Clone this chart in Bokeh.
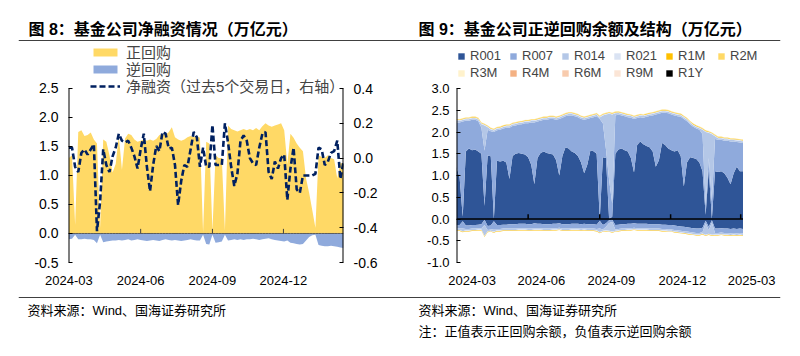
import pandas as pd
from bokeh.plotting import figure
from bokeh.models import (Range1d, LinearAxis, FixedTicker, DatetimeTickFormatter,
                          NumeralTickFormatter, Legend, LegendItem, Label, Span,
                          ColumnDataSource)
from bokeh.layouts import column, row
from bokeh.embed import file_html
from bokeh.resources import INLINE

# Latin glyphs (digits, "Wind") in an Arial-like face, Chinese falls back to Noto Sans CJK
FONT_CN = "Liberation Sans, Noto Sans CJK SC"
FONT_NUM = "Liberation Sans"

# ---------------- 图8 data (sampled every 4 days from 2024-03-01) ----------------
repo_pos = [1.30, 1.35, 0.15, 1.75, 1.78, 1.68, 1.70, 1.74, 1.62, 1.55,
            0.10, 1.62, 1.58, 1.35, 1.05, 1.20, 1.68, 1.10, 1.64, 1.72,
            1.70, 1.62, 1.58, 1.60, 1.62, 1.60, 1.62, 1.60, 1.63, 1.70,
            1.72, 1.70, 1.75, 1.83, 1.66, 1.62, 1.60, 1.62, 1.66, 1.68,
            1.66, 1.68, 1.65, 0.02, 1.58, 1.55, 0.05, 1.35, 1.30, 1.30,
            0.05, 1.86, 1.80, 1.78, 1.76, 1.78, 1.80, 1.78, 1.80, 1.78,
            1.82, 1.78, 1.85, 1.90, 1.86, 1.84, 1.86, 1.88, 1.90, 1.78,
            1.20, 1.72, 1.65, 1.55, 1.48, 1.42, 0.95, 0.70, 0.40, 0.10,
            1.35, 1.32, 1.30, 1.35, 1.30, 1.28, 0.95, 1.22, 1.20]
rev_repo = [-0.10, -0.09, -0.02, -0.10, -0.10, -0.09, -0.10, -0.10, -0.11, -0.17,
            -0.02, -0.15, -0.14, -0.13, -0.12, -0.12, -0.11, -0.12, -0.11, -0.10,
            -0.12, -0.11, -0.10, -0.11, -0.12, -0.13, -0.12, -0.11, -0.12, -0.13,
            -0.11, -0.10, -0.11, -0.12, -0.11, -0.12, -0.13, -0.12, -0.11, -0.10,
            -0.11, -0.12, -0.12, -0.02, -0.18, -0.19, -0.02, -0.16, -0.15, -0.14,
            -0.02, -0.12, -0.11, -0.10, -0.11, -0.10, -0.11, -0.10, -0.10, -0.09,
            -0.10, -0.11, -0.10, -0.09, -0.08, -0.10, -0.11, -0.12, -0.13, -0.14,
            -0.12, -0.16, -0.17, -0.18, -0.19, -0.18, -0.12, -0.06, -0.03, -0.02,
            -0.20, -0.21, -0.22, -0.22, -0.21, -0.22, -0.23, -0.24, -0.25]
net_fin = [0.06, 0.06, -0.05, -0.08, 0.03, 0.05, 0.02, 0.05, 0.08, -0.42,
           -0.25, 0.05, -0.04, -0.08, 0.01, 0.06, 0.14, 0.10, 0.09, 0.10,
           0.06, 0.01, -0.06, 0.05, 0.14, -0.05, -0.19, -0.04, 0.07, 0.04,
           0.15, 0.14, 0.055, 0.06, -0.04, -0.27, -0.13, -0.04, -0.05, 0.05,
           0.15, 0.12, -0.05, 0.06, -0.05, -0.05, 0.19, -0.04, -0.04, -0.04,
           0.20, 0.09, -0.05, -0.16, -0.09, 0.10, 0.13, 0.10, 0.00, -0.03,
           -0.04, 0.06, 0.14, 0.15, -0.08, -0.12, -0.02, -0.06, 0.00, 0.02,
           -0.24, -0.06, 0.06, -0.18, -0.20, -0.10, -0.10, -0.10, -0.10, -0.09,
           0.06, 0.05, -0.04, -0.02, 0.03, 0.04, 0.10, -0.12, -0.02]

# ---------------- 图9 data (sampled every 4 days from 2024-03-01) ----------------
r001_pos = [1.20, 0.95, 0.05, 1.55, 1.62, 1.58, 1.60, 1.55, 1.50, 0.30,
            1.46, 1.44, 0.00, 1.34, 1.32, 1.34, 1.30, 0.92, 1.45, 1.50,
            1.52, 1.50, 1.48, 1.42, 1.25, 0.80, 1.40, 1.52, 1.55, 1.52,
            1.50, 1.48, 1.35, 1.00, 1.45, 1.65, 1.62, 1.55, 1.52, 1.45,
            1.30, 1.05, 1.25, 1.58, 1.56, 1.50, 0.00, 1.42, 1.40, 0.00,
            0.05, 1.50, 1.60, 1.62, 1.58, 1.55, 1.40, 1.07, 1.70, 1.78,
            1.72, 1.68, 1.65, 1.55, 1.20, 1.35, 1.75, 1.70, 1.62, 1.58,
            1.55, 1.58, 1.45, 0.75, 1.30, 1.42, 1.40, 1.38, 1.30, 1.10,
            0.10, 1.15, 0.00, 1.10, 1.08, 1.10, 1.05, 0.95, 0.80, 1.05,
            1.20, 1.10, 1.10]
r007_pos = [1.02, 1.27, 2.19, 0.71, 0.64, 0.70, 0.68, 0.70, 0.60, 1.27,
            0.59, 0.58, 2.00, 0.70, 0.73, 0.74, 0.80, 1.18, 0.69, 0.65,
            0.65, 0.68, 0.72, 0.78, 0.97, 1.42, 0.84, 0.74, 0.73, 0.76,
            0.80, 0.82, 0.93, 1.30, 0.88, 0.71, 0.76, 0.83, 0.84, 0.89,
            1.00, 1.23, 1.05, 0.74, 0.78, 0.86, 2.30, 0.78, 0.20, 0.90,
            0.30, 0.88, 0.80, 0.76, 0.78, 0.79, 0.93, 1.23, 0.62, 0.56,
            0.61, 0.67, 0.72, 0.83, 1.20, 1.07, 0.69, 0.74, 0.81, 0.82,
            0.83, 0.78, 0.90, 1.55, 0.95, 0.76, 0.72, 0.70, 0.75, 0.85,
            0.20, 0.25, 0.40, 0.74, 0.74, 0.72, 0.75, 0.85, 0.98, 0.73,
            0.57, 0.66, 0.65]
r014_pos = [0.035, 0.035, 0.035, 0.035, 0.035, 0.035, 0.035, 0.035, 0.08, 0.58,
            0.06, 0.035, 0.035, 0.035, 0.035, 0.035, 0.035, 0.035, 0.035, 0.035,
            0.035, 0.035, 0.035, 0.035, 0.035, 0.035, 0.035, 0.035, 0.035, 0.035,
            0.035, 0.035, 0.035, 0.035, 0.035, 0.035, 0.035, 0.035, 0.035, 0.035,
            0.035, 0.035, 0.035, 0.035, 0.035, 0.035, 0.035, 0.18, 0.80, 1.52,
            2.05, 0.05, 0.035, 0.035, 0.035, 0.035, 0.035, 0.035, 0.035, 0.035,
            0.035, 0.035, 0.035, 0.035, 0.035, 0.035, 0.035, 0.035, 0.035, 0.035,
            0.035, 0.035, 0.035, 0.035, 0.035, 0.035, 0.035, 0.035, 0.035, 0.10,
            1.70, 0.58, 1.55, 0.06, 0.035, 0.035, 0.035, 0.035, 0.035, 0.035,
            0.035, 0.035, 0.035]
r021_pos = [0.02, 0.02, 0.02, 0.02, 0.02, 0.02, 0.02, 0.02, 0.02, 0.02,
            0.02, 0.02, 0.02, 0.02, 0.02, 0.02, 0.02, 0.02, 0.02, 0.02,
            0.02, 0.02, 0.02, 0.02, 0.02, 0.02, 0.02, 0.02, 0.02, 0.02,
            0.02, 0.02, 0.02, 0.02, 0.02, 0.02, 0.02, 0.02, 0.02, 0.02,
            0.02, 0.02, 0.02, 0.02, 0.02, 0.02, 0.02, 0.02, 0.02, 0.02,
            0.02, 0.02, 0.02, 0.02, 0.02, 0.02, 0.02, 0.02, 0.02, 0.02,
            0.02, 0.02, 0.02, 0.02, 0.02, 0.02, 0.02, 0.02, 0.02, 0.02,
            0.02, 0.02, 0.02, 0.02, 0.02, 0.02, 0.02, 0.02, 0.02, 0.02,
            0.02, 0.02, 0.02, 0.02, 0.02, 0.02, 0.02, 0.02, 0.02, 0.02,
            0.02, 0.02, 0.02]
r1m_pos = [0.012, 0.012, 0.012, 0.012, 0.012, 0.012, 0.012, 0.012, 0.012, 0.012,
           0.012, 0.012, 0.012, 0.012, 0.012, 0.012, 0.012, 0.012, 0.012, 0.012,
           0.012, 0.012, 0.012, 0.012, 0.012, 0.012, 0.012, 0.012, 0.012, 0.012,
           0.012, 0.012, 0.012, 0.012, 0.012, 0.012, 0.012, 0.012, 0.012, 0.012,
           0.012, 0.012, 0.012, 0.012, 0.012, 0.012, 0.012, 0.012, 0.012, 0.012,
           0.012, 0.012, 0.012, 0.012, 0.012, 0.012, 0.012, 0.012, 0.012, 0.012,
           0.012, 0.012, 0.012, 0.012, 0.012, 0.012, 0.012, 0.012, 0.012, 0.012,
           0.012, 0.012, 0.012, 0.012, 0.012, 0.012, 0.012, 0.012, 0.012, 0.012,
           0.012, 0.012, 0.012, 0.012, 0.012, 0.012, 0.012, 0.012, 0.012, 0.012,
           0.012, 0.012, 0.012]
r2m_pos = [0.008, 0.008, 0.008, 0.008, 0.008, 0.008, 0.008, 0.008, 0.008, 0.008,
           0.008, 0.008, 0.008, 0.008, 0.008, 0.008, 0.008, 0.008, 0.008, 0.008,
           0.008, 0.008, 0.008, 0.008, 0.008, 0.008, 0.008, 0.008, 0.008, 0.008,
           0.008, 0.008, 0.008, 0.008, 0.008, 0.008, 0.008, 0.008, 0.008, 0.008,
           0.008, 0.008, 0.008, 0.008, 0.008, 0.008, 0.008, 0.008, 0.008, 0.008,
           0.008, 0.008, 0.008, 0.008, 0.008, 0.008, 0.008, 0.008, 0.008, 0.008,
           0.008, 0.008, 0.008, 0.008, 0.008, 0.008, 0.008, 0.008, 0.008, 0.008,
           0.008, 0.008, 0.008, 0.008, 0.008, 0.008, 0.008, 0.008, 0.008, 0.008,
           0.008, 0.008, 0.008, 0.008, 0.008, 0.008, 0.008, 0.008, 0.008, 0.008,
           0.008, 0.008, 0.008]
r3m_pos = [0.006, 0.006, 0.006, 0.006, 0.006, 0.006, 0.006, 0.006, 0.006, 0.006,
           0.006, 0.006, 0.006, 0.006, 0.006, 0.006, 0.006, 0.006, 0.006, 0.006,
           0.006, 0.006, 0.006, 0.006, 0.006, 0.006, 0.006, 0.006, 0.006, 0.006,
           0.006, 0.006, 0.006, 0.006, 0.006, 0.006, 0.006, 0.006, 0.006, 0.006,
           0.006, 0.006, 0.006, 0.006, 0.006, 0.006, 0.006, 0.006, 0.006, 0.006,
           0.006, 0.006, 0.006, 0.006, 0.006, 0.006, 0.006, 0.006, 0.006, 0.006,
           0.006, 0.006, 0.006, 0.006, 0.006, 0.006, 0.006, 0.006, 0.006, 0.006,
           0.006, 0.006, 0.006, 0.006, 0.006, 0.006, 0.006, 0.006, 0.006, 0.006,
           0.006, 0.006, 0.006, 0.006, 0.006, 0.006, 0.006, 0.006, 0.006, 0.006,
           0.006, 0.006, 0.006]
# R4M, R6M, R9M, R1Y: read as zero at this scale
r_long_zero = [0, 0, 0, 0, 0, 0, 0, 0, 0, 0, 0, 0, 0, 0, 0, 0, 0, 0, 0, 0,
               0, 0, 0, 0, 0, 0, 0, 0, 0, 0, 0, 0, 0, 0, 0, 0, 0, 0, 0, 0,
               0, 0, 0, 0, 0, 0, 0, 0, 0, 0, 0, 0, 0, 0, 0, 0, 0, 0, 0, 0,
               0, 0, 0, 0, 0, 0, 0, 0, 0, 0, 0, 0, 0, 0, 0, 0, 0, 0, 0, 0,
               0, 0, 0, 0, 0, 0, 0, 0, 0, 0, 0, 0, 0]

r001_neg = [-0.14, -0.14, -0.05, -0.15, -0.15, -0.14, -0.14, -0.13, -0.12, -0.02,
            -0.16, -0.15, -0.05, -0.14, -0.14, -0.13, -0.13, -0.12, -0.12, -0.12,
            -0.11, -0.11, -0.11, -0.12, -0.12, -0.10, -0.11, -0.11, -0.12, -0.12,
            -0.12, -0.11, -0.11, -0.10, -0.12, -0.12, -0.12, -0.11, -0.11, -0.11,
            -0.12, -0.11, -0.12, -0.12, -0.12, -0.13, -0.04, -0.14, -0.10, -0.03,
            -0.02, -0.14, -0.13, -0.12, -0.12, -0.11, -0.11, -0.10, -0.11, -0.11,
            -0.11, -0.11, -0.12, -0.12, -0.12, -0.12, -0.13, -0.13, -0.14, -0.14,
            -0.15, -0.16, -0.17, -0.18, -0.19, -0.20, -0.21, -0.22, -0.22, -0.20,
            -0.04, -0.18, -0.03, -0.22, -0.22, -0.21, -0.22, -0.22, -0.23, -0.22,
            -0.23, -0.22, -0.23]
r007_neg = [-0.08, -0.08, -0.17, -0.08, -0.08, -0.08, -0.08, -0.08, -0.09, -0.12,
            -0.09, -0.09, -0.18, -0.09, -0.09, -0.09, -0.09, -0.10, -0.10, -0.10,
            -0.10, -0.10, -0.10, -0.10, -0.10, -0.11, -0.10, -0.10, -0.10, -0.10,
            -0.10, -0.10, -0.10, -0.10, -0.10, -0.10, -0.10, -0.10, -0.10, -0.10,
            -0.10, -0.10, -0.10, -0.10, -0.10, -0.10, -0.18, -0.10, -0.08, -0.06,
            -0.05, -0.10, -0.10, -0.10, -0.10, -0.10, -0.10, -0.10, -0.10, -0.10,
            -0.10, -0.10, -0.10, -0.10, -0.10, -0.10, -0.10, -0.10, -0.10, -0.10,
            -0.10, -0.10, -0.10, -0.10, -0.10, -0.10, -0.10, -0.10, -0.10, -0.10,
            -0.06, -0.08, -0.05, -0.10, -0.10, -0.10, -0.10, -0.10, -0.10, -0.10,
            -0.10, -0.10, -0.10]
r014_neg = [-0.03, -0.03, -0.06, -0.03, -0.03, -0.03, -0.03, -0.03, -0.03, -0.25,
            -0.03, -0.03, -0.06, -0.03, -0.03, -0.03, -0.03, -0.03, -0.03, -0.03,
            -0.03, -0.03, -0.03, -0.03, -0.03, -0.03, -0.03, -0.03, -0.03, -0.03,
            -0.03, -0.03, -0.03, -0.03, -0.03, -0.03, -0.03, -0.03, -0.03, -0.03,
            -0.03, -0.03, -0.03, -0.03, -0.03, -0.03, -0.08, -0.03, -0.08, -0.18,
            -0.22, -0.03, -0.03, -0.03, -0.03, -0.03, -0.03, -0.03, -0.03, -0.03,
            -0.03, -0.03, -0.03, -0.03, -0.03, -0.03, -0.03, -0.03, -0.03, -0.03,
            -0.035, -0.035, -0.035, -0.035, -0.035, -0.035, -0.035, -0.035, -0.035, -0.035,
            -0.26, -0.08, -0.28, -0.035, -0.035, -0.035, -0.035, -0.035, -0.035, -0.035,
            -0.035, -0.035, -0.035]
r021_neg = [-0.015, -0.015, -0.015, -0.015, -0.015, -0.015, -0.015, -0.015, -0.015, -0.015,
            -0.015, -0.015, -0.015, -0.015, -0.015, -0.015, -0.015, -0.015, -0.015, -0.015,
            -0.015, -0.015, -0.015, -0.015, -0.015, -0.015, -0.015, -0.015, -0.015, -0.015,
            -0.015, -0.015, -0.015, -0.015, -0.015, -0.015, -0.015, -0.015, -0.015, -0.015,
            -0.015, -0.015, -0.015, -0.015, -0.015, -0.015, -0.015, -0.015, -0.015, -0.015,
            -0.015, -0.015, -0.015, -0.015, -0.015, -0.015, -0.015, -0.015, -0.015, -0.015,
            -0.015, -0.015, -0.015, -0.015, -0.015, -0.015, -0.015, -0.015, -0.015, -0.015,
            -0.015, -0.015, -0.015, -0.015, -0.015, -0.015, -0.015, -0.015, -0.015, -0.015,
            -0.015, -0.015, -0.015, -0.015, -0.015, -0.015, -0.015, -0.015, -0.015, -0.015,
            -0.015, -0.015, -0.015]
r1m_neg = [-0.01, -0.01, -0.01, -0.01, -0.01, -0.01, -0.01, -0.01, -0.01, -0.01,
           -0.01, -0.01, -0.01, -0.01, -0.01, -0.01, -0.01, -0.01, -0.01, -0.01,
           -0.01, -0.01, -0.01, -0.01, -0.01, -0.01, -0.01, -0.01, -0.01, -0.01,
           -0.01, -0.01, -0.01, -0.01, -0.01, -0.01, -0.01, -0.01, -0.01, -0.01,
           -0.01, -0.01, -0.01, -0.01, -0.01, -0.01, -0.01, -0.01, -0.01, -0.01,
           -0.01, -0.01, -0.01, -0.01, -0.01, -0.01, -0.01, -0.01, -0.01, -0.01,
           -0.01, -0.01, -0.01, -0.01, -0.01, -0.01, -0.01, -0.01, -0.01, -0.01,
           -0.01, -0.01, -0.01, -0.01, -0.01, -0.01, -0.01, -0.01, -0.01, -0.01,
           -0.01, -0.01, -0.01, -0.01, -0.01, -0.01, -0.01, -0.01, -0.01, -0.01,
           -0.01, -0.01, -0.01]

tenors = ["R001", "R007", "R014", "R021", "R1M", "R2M", "R3M", "R4M", "R6M", "R9M", "R1Y"]
tenor_colors = ["#2F5597", "#8FAADC", "#B4C7E7", "#DAE3F3", "#FFC000", "#FFD966",
                "#FFF2CC", "#F4B183", "#F8CBAD", "#FBE5D6", "#000000"]
pos_series = [r001_pos, r007_pos, r014_pos, r021_pos, r1m_pos, r2m_pos, r3m_pos,
              r_long_zero, r_long_zero, r_long_zero, r_long_zero]
neg_series = [r001_neg, r007_neg, r014_neg, r021_neg, r1m_neg, r_long_zero, r_long_zero,
              r_long_zero, r_long_zero, r_long_zero, r_long_zero]

left_ticks = ["2024-03-01", "2024-06-01", "2024-09-01", "2024-12-01"]
right_label_ticks = ["2024-03-21", "2024-06-18", "2024-09-16", "2024-12-16", "2025-03-15"]
right_minor_marks = ["2024-06-01", "2024-09-01", "2024-12-01", "2025-03-01"]

title_l = "图 8：基金公司净融资情况（万亿元）"
title_r = "图 9：基金公司正逆回购余额及结构（万亿元）"
source_text = "资料来源：Wind、国海证券研究所"
note_text = "注：正值表示正回购余额，负值表示逆回购余额"

# ---------------- helpers ----------------
day = pd.Timedelta(days=1)
start = pd.Timestamp("2024-03-01")


def ms(d):
    return pd.Timestamp(d).value / 1e6


def style_axis(ax, size="13px"):
    ax.major_label_text_font = FONT_NUM
    ax.major_label_text_font_size = size
    ax.major_label_text_color = "black"
    ax.axis_line_color = None
    ax.major_tick_line_color = "black"
    ax.major_tick_in = 4
    ax.major_tick_out = 0
    ax.minor_tick_line_color = None


def date_fmt():
    f = "%Y-%m"
    return DatetimeTickFormatter(days=f, months=f, years=f, hours=f, minutes=f)


# ---------------- left chart ----------------
nl = min(len(repo_pos), len(rev_repo), len(net_fin))
dates_l = pd.date_range(start, periods=nl, freq="4D")
src_l = ColumnDataSource(dict(date=dates_l, pos=repo_pos[:nl], neg=rev_repo[:nl],
                              net=net_fin[:nl], zero=[0.0] * nl))

xl0, xl1 = start - 0.5 * day, start + 352 * day
# the frame reaches up to the legend; the value axes themselves stop at 2.5 / 0.4
p1 = figure(width=400, height=252, x_axis_type="datetime",
            x_range=Range1d(xl0, xl1), y_range=Range1d(-0.5, 3.2586),
            output_backend="svg", toolbar_location=None,
            min_border_left=68, min_border_right=57, min_border_top=0, min_border_bottom=34)
p1.extra_y_ranges = {"net": Range1d(-0.6, 0.6529)}
p1.grid.visible = False
p1.outline_line_color = None

r_pos = p1.varea(x="date", y1="zero", y2="pos", source=src_l, fill_color="#FFD966")
r_neg = p1.varea(x="date", y1="neg", y2="zero", source=src_l, fill_color="#8FAADC")
p1.line(x="date", y="zero", source=src_l, line_color="#404040", line_width=0.8)
p1.segment(x0=pd.to_datetime(left_ticks[1:]), y0=0, x1=pd.to_datetime(left_ticks[1:]),
           y1=0.08, line_color="#404040", line_width=1)
r_net = p1.line(x="date", y="net", source=src_l, y_range_name="net",
                line_color="#002060", line_width=2.6, line_dash="6 3")
p1.segment(x0=[xl0], y0=[-0.5], x1=[xl0], y1=[2.5], line_color="black", line_width=2)
p1.segment(x0=[xl1], y0=[-0.6], x1=[xl1], y1=[0.4], line_color="black", line_width=2,
           y_range_name="net")

p1.yaxis.ticker = FixedTicker(ticks=[-0.5, 0.0, 0.5, 1.0, 1.5, 2.0, 2.5])
p1.yaxis.formatter = NumeralTickFormatter(format="0.0")
style_axis(p1.yaxis[0], "14px")
p1.yaxis.major_label_standoff = 10

ax_r = LinearAxis(y_range_name="net", ticker=FixedTicker(ticks=[-0.6, -0.4, -0.2, 0.0, 0.2, 0.4]),
                  formatter=NumeralTickFormatter(format="0.0"))
style_axis(ax_r, "14px")
ax_r.major_label_standoff = 10
p1.add_layout(ax_r, "right")

p1.xaxis.ticker = FixedTicker(ticks=[ms(d) for d in left_ticks])
p1.xaxis.formatter = date_fmt()
style_axis(p1.xaxis[0], "13px")
p1.xaxis.major_tick_line_color = None
p1.xaxis.major_label_standoff = 13

# one legend per row so the rows can sit as tightly as in the original
for lbl, rend, vy in [("正回购", r_pos, 200), ("逆回购", r_neg, 183),
                      ("净融资（过去5个交易日，右轴）", r_net, 166)]:
    p1.add_layout(Legend(items=[LegendItem(label=lbl, renderers=[rend])],
                         location=(22, vy), glyph_width=30, glyph_height=10, label_standoff=6,
                         label_height=15, spacing=0, padding=0, margin=0,
                         label_text_font=FONT_CN, label_text_font_size="15px",
                         border_line_color=None, background_fill_alpha=0), "center")

# ---------------- right chart ----------------
nr = min(len(s) for s in pos_series + neg_series)
dates_r = pd.date_range(start, periods=nr, freq="4D")
pos_data = {"date": dates_r}
neg_data = {"date": dates_r}
for t, sp, sn in zip(tenors, pos_series, neg_series):
    pos_data[t] = sp[:nr]
    neg_data[t] = sn[:nr]
src_rp = ColumnDataSource(pos_data)
src_rn = ColumnDataSource(neg_data)

xr0, xr1 = start, start + 411 * day
p2 = figure(width=400, height=252, x_axis_type="datetime",
            x_range=Range1d(xr0, xr1), y_range=Range1d(-1.0, 4.0115),
            output_backend="svg", toolbar_location=None,
            min_border_left=56, min_border_right=24, min_border_top=0, min_border_bottom=34)
p2.grid.visible = False
p2.outline_line_color = None

rs_pos = p2.varea_stack(stackers=tenors, x="date", color=tenor_colors, source=src_rp)
p2.varea_stack(stackers=tenors, x="date", color=tenor_colors, source=src_rn)
p2.line(x=[dates_r[0], dates_r[-1]], y=[0, 0], line_color="black", line_width=1.5)
p2.segment(x0=pd.to_datetime(right_minor_marks), y0=0, x1=pd.to_datetime(right_minor_marks),
           y1=0.11, line_color="black", line_width=1.5)
p2.segment(x0=[xr0], y0=[-1.0], x1=[xr0], y1=[3.0], line_color="black", line_width=2)

p2.yaxis.ticker = FixedTicker(ticks=[-1.0, -0.5, 0.0, 0.5, 1.0, 1.5, 2.0, 2.5, 3.0])
p2.yaxis.formatter = NumeralTickFormatter(format="0.0")
style_axis(p2.yaxis[0], "13px")
p2.yaxis.major_label_standoff = 7

p2.xaxis.ticker = FixedTicker(ticks=[ms(d) for d in right_label_ticks])
p2.xaxis.formatter = date_fmt()
style_axis(p2.xaxis[0], "13px")
p2.xaxis.major_tick_line_color = None
p2.xaxis.major_label_standoff = 13

leg2 = Legend(items=[LegendItem(label=t, renderers=[r]) for t, r in zip(tenors, rs_pos)],
              location=(1, 182), orientation="horizontal", ncols=6,
              glyph_width=8, glyph_height=8, label_standoff=5, label_width=37,
              label_height=15, spacing=2, padding=0, margin=0,
              label_text_font=FONT_NUM, label_text_font_size="13px",
              border_line_color=None, background_fill_alpha=0)
p2.add_layout(leg2, "center")

# ---------------- header / footer ----------------
hdr = figure(width=800, height=44, x_range=Range1d(0, 762), y_range=Range1d(0, 44),
             x_axis_location=None, y_axis_location=None, output_backend="svg",
             toolbar_location=None, min_border_left=18, min_border_right=20,
             min_border_top=0, min_border_bottom=0)
hdr.grid.visible = False
hdr.outline_line_color = None
for x, t in [(10, title_l), (400, title_r)]:
    hdr.add_layout(Label(x=x, y=15, text=t, text_font=FONT_CN, text_font_size="16px",
                         text_font_style="bold", text_baseline="middle", text_color="black"))
hdr.add_layout(Span(location=4, dimension="width", line_color="#404040", line_width=1))

ftr = figure(width=800, height=60, x_range=Range1d(0, 764), y_range=Range1d(0, 60),
             x_axis_location=None, y_axis_location=None, output_backend="svg",
             toolbar_location=None, min_border_left=18, min_border_right=18,
             min_border_top=0, min_border_bottom=0)
ftr.grid.visible = False
ftr.outline_line_color = None
ftr.add_layout(Span(location=59, dimension="width", line_color="#404040", line_width=1))
for x, y, t in [(9, 46, source_text), (401, 46, source_text), (401, 25, note_text)]:
    ftr.add_layout(Label(x=x, y=y, text=t, text_font=FONT_CN, text_font_size="13px",
                         text_baseline="middle", text_color="black"))

layout = column(hdr, row(p1, p2), ftr)
open("out.html", "w").write(file_html(layout, INLINE))
